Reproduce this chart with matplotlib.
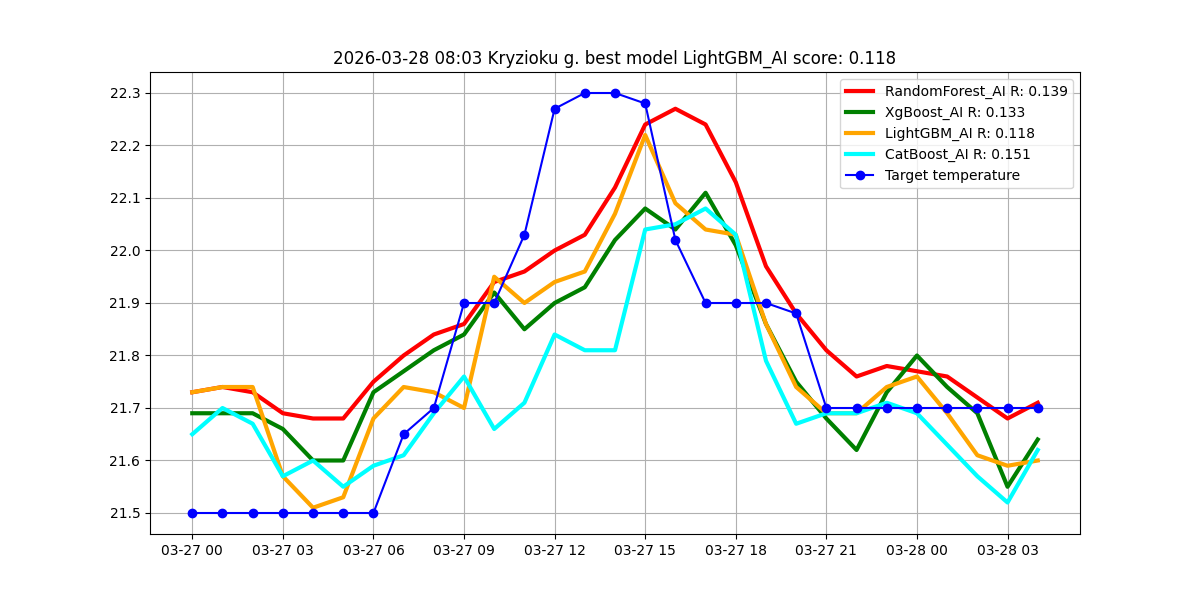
import matplotlib
matplotlib.use("Agg")
import matplotlib.pyplot as plt
import matplotlib.dates as mdates
import pandas as pd

times = pd.date_range("2026-03-27 00:00", periods=29, freq="h")

target = [21.5, 21.5, 21.5, 21.5, 21.5, 21.5, 21.5, 21.65, 21.7, 21.9, 21.9, 22.03,
          22.27, 22.3, 22.3, 22.28, 22.02, 21.9, 21.9, 21.9, 21.88, 21.7, 21.7, 21.7,
          21.7, 21.7, 21.7, 21.7, 21.7]
random_forest = [21.73, 21.74, 21.73, 21.69, 21.68, 21.68, 21.75, 21.80, 21.84, 21.86,
                 21.94, 21.96, 22.00, 22.03, 22.12, 22.24, 22.27, 22.24, 22.13, 21.97,
                 21.88, 21.81, 21.76, 21.78, 21.77, 21.76, 21.72, 21.68, 21.71]
xgboost = [21.69, 21.69, 21.69, 21.66, 21.60, 21.60, 21.73, 21.77, 21.81, 21.84,
           21.92, 21.85, 21.90, 21.93, 22.02, 22.08, 22.04, 22.11, 22.01, 21.86,
           21.75, 21.68, 21.62, 21.73, 21.80, 21.74, 21.69, 21.55, 21.64]
lightgbm = [21.73, 21.74, 21.74, 21.57, 21.51, 21.53, 21.68, 21.74, 21.73, 21.70,
            21.95, 21.90, 21.94, 21.96, 22.07, 22.22, 22.09, 22.04, 22.03, 21.86,
            21.74, 21.69, 21.69, 21.74, 21.76, 21.69, 21.61, 21.59, 21.60]
catboost = [21.65, 21.70, 21.67, 21.57, 21.60, 21.55, 21.59, 21.61, 21.69, 21.76,
            21.66, 21.71, 21.84, 21.81, 21.81, 22.04, 22.05, 22.08, 22.03, 21.79,
            21.67, 21.69, 21.69, 21.71, 21.69, 21.63, 21.57, 21.52, 21.62]

labels = ["RandomForest_AI R: 0.139", "XgBoost_AI R: 0.133",
          "LightGBM_AI R: 0.118", "CatBoost_AI R: 0.151"]
colors = ["red", "green", "orange", "cyan"]

fig, ax = plt.subplots(figsize=(12, 6), dpi=100)
for vals, lab, col in zip([random_forest, xgboost, lightgbm, catboost], labels, colors):
    ax.plot(times, vals, color=col, linewidth=3, label=lab)
ax.plot(times, target, color="blue", marker="o", linewidth=1.5, label="Target temperature")

ax.xaxis.set_major_locator(mdates.HourLocator(byhour=range(0, 24, 3)))
ax.xaxis.set_major_formatter(mdates.DateFormatter("%m-%d %H"))
ax.grid(True)
ax.legend(loc="upper right")
ax.set_title("2026-03-28 08:03 Kryzioku g. best model LightGBM_AI score: 0.118")
fig.savefig("out.png")
